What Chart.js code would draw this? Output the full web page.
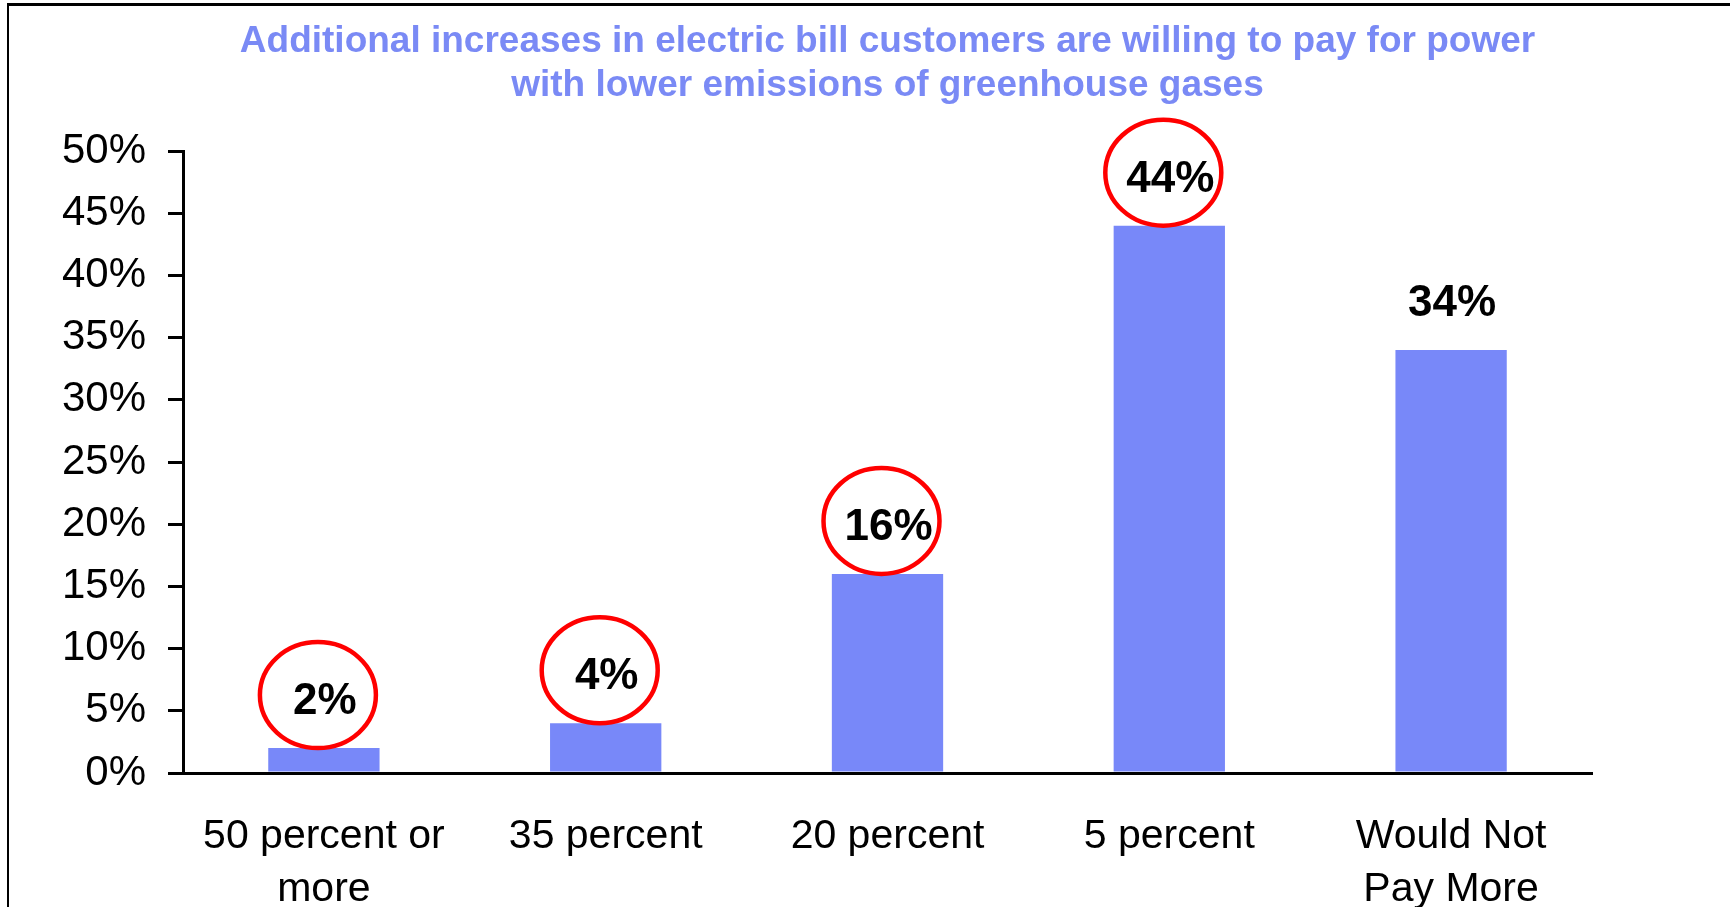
<!DOCTYPE html>
<html>
<head>
<meta charset="utf-8">
<script src="https://cdn.jsdelivr.net/npm/chart.js@4/dist/chart.umd.min.js"></script>
<style>
  body { margin: 0; background: #fff; }
  #frame { position: absolute; left: 7px; top: 3px; right: 0; bottom: 0;
           border-top: 3px solid #000; border-left: 2px solid #000; }
  #wrap { position: absolute; left: 0; top: 0; width: 1730px; height: 907px; }
</style>
</head>
<body>
<div id="frame"></div>
<div id="wrap"><canvas id="chart" width="1730" height="907"></canvas></div>
<script>
// ===== DATA =====
const categories = [["50 percent or", "more"], "35 percent", "20 percent", "5 percent", ["Would Not", "Pay More"]];
const shares = [2, 4, 16, 44, 34];
const circled = [true, true, true, true, false];
const yTicks = [0, 5, 10, 15, 20, 25, 30, 35, 40, 45, 50];

const FONT = "'Liberation Sans', Arial, sans-serif";
const barColor = "#7888f9";

// value labels + red circles on top of bars
const labelPlugin = {
    id: "barLabels",
    afterDatasetsDraw(chart) {
        const ctx = chart.ctx;
        const meta = chart.getDatasetMeta(0);
        ctx.save();
        meta.data.forEach((bar, i) => {
            const x = bar.x;
            const top = bar.y;
            ctx.fillStyle = "#000";
            ctx.font = "bold 44px " + FONT;
            ctx.textAlign = "center";
            ctx.textBaseline = "middle";
            ctx.fillText(shares[i] + "%", x + 1, top - 46);
            if (circled[i]) {
                ctx.beginPath();
                ctx.ellipse(x - 6, top - 53, 58, 53, 0, 0, Math.PI * 2);
                ctx.strokeStyle = "#ff0000";
                ctx.lineWidth = 4.5;
                ctx.stroke();
            }
        });
        ctx.restore();
    }
};

new Chart(document.getElementById("chart"), {
    type: "bar",
    data: {
        labels: categories,
        datasets: [{
            data: shares,
            backgroundColor: barColor,
            barPercentage: 0.395,
            categoryPercentage: 1
        }]
    },
    options: {
        responsive: false,
        animation: false,
        layout: { padding: { left: 0, right: 138, top: 0, bottom: 0 } },
        plugins: {
            legend: { display: false },
            tooltip: { enabled: false },
            title: {
                display: true,
                fullSize: false,
                text: ["Additional increases in electric bill customers are willing to pay for power",
                       "with lower emissions of greenhouse gases"],
                color: "#7a8af5",
                font: { family: FONT, size: 37, weight: "bold", lineHeight: 1.19 },
                padding: { top: 20, bottom: 43 }
            }
        },
        scales: {
            x: {
                grid: { display: false, drawTicks: false },
                border: { display: true, color: "#000", width: 3 },
                ticks: {
                    color: "#000",
                    font: { family: FONT, size: 41, lineHeight: 1.29 },
                    padding: 37,
                    maxRotation: 0,
                    autoSkip: false
                },
                afterFit(scale) { scale.height = 134; }
            },
            y: {
                min: 0,
                max: 50,
                afterBuildTicks(scale) { scale.ticks = yTicks.map(v => ({ value: v })); },
                grid: { drawOnChartArea: false, drawTicks: true, tickLength: 15, color: "#000", lineWidth: 3 },
                border: { display: true, color: "#000", width: 3 },
                ticks: {
                    color: "#000",
                    font: { family: FONT, size: 42 },
                    padding: 22,
                    callback: v => v + "%"
                },
                afterFit(scale) { scale.width = 183; }
            }
        }
    },
    plugins: [labelPlugin]
});
</script>
</body>
</html>
